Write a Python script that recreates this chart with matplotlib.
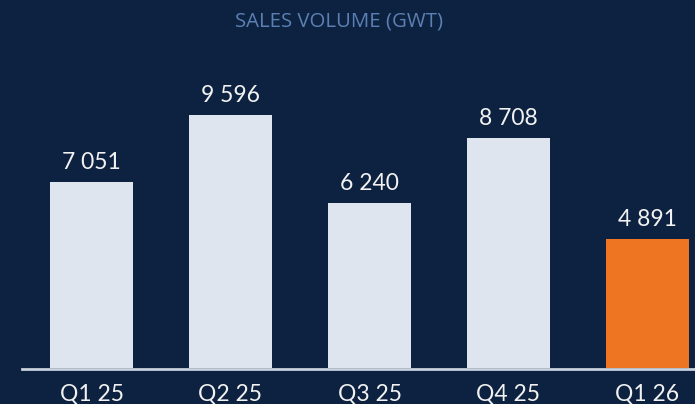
import matplotlib
matplotlib.use('Agg')
import matplotlib.pyplot as plt

# data
quarters = ["Q1 25", "Q2 25", "Q3 25", "Q4 25", "Q1 26"]
volumes = [7051, 9596, 6240, 8708, 4891]

BG = '#0d2240'
BAR = '#dfe5ee'
HIGHLIGHT = '#ee7623'
TITLE = '#5b80b3'
TEXT = '#f2f2f2'

px = 0.02637  # pixels per unit
fig = plt.figure(figsize=(6.95, 4.04), dpi=100, facecolor=BG)
ax = fig.add_axes([0, 0, 1, 1])
ax.set_facecolor(BG)

x = list(range(len(quarters)))
colors = [BAR] * (len(quarters) - 1) + [HIGHLIGHT]
ax.bar(x, volumes, width=0.597, color=colors, zorder=2)

ax.set_xlim(-91.5 / 139, (695 - 91.5) / 139)
ax.set_ylim(-36 / px, (404 - 36) / px)
ax.axhline(-1 / px, xmin=22 / 695, xmax=1, color='#c9d1dc', lw=2, zorder=3)

for xi, v in zip(x, volumes):
    ax.annotate(f"{v:,}".replace(',', ' '), (xi, v), xytext=(0, 9.5),
                textcoords='offset points', ha='center', va='baseline',
                color=TEXT, fontsize=16.5, family='Lato')
    # quarter labels sit right at the bottom edge
    ax.annotate(quarters[xi], (xi, 0), xytext=(0, -23.5),
                textcoords='offset points', ha='center', va='baseline',
                color=TEXT, fontsize=16.5, family='Lato')

fig.text(339 / 695, 1 - 22 / 404, "SALES VOLUME (GWT)", ha='center', va='center',
         color=TITLE, fontsize=14.7, family='Open Sans')

ax.axis('off')
fig.savefig('out.png', dpi=100, facecolor=BG)
